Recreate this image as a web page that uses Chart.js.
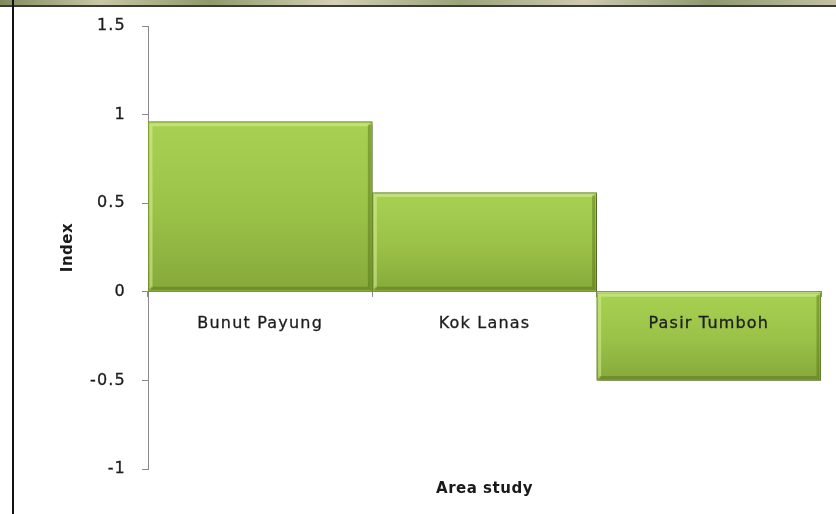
<!DOCTYPE html>
<html>
<head>
<meta charset="utf-8">
<script src="https://cdn.jsdelivr.net/npm/chart.js@4.4.1/dist/chart.umd.min.js"></script>
<style>
  html, body { margin: 0; padding: 0; background: #fff; }
  #wrap { position: relative; width: 836px; height: 514px; overflow: hidden; }
  #strip {
    position: absolute; left: 0; top: 0; width: 836px; height: 5px;
    background: linear-gradient(90deg, #7f8a5c, #c9c7a6 12%, #8e9a6a 25%, #d4d0b4 40%, #9aa37a 55%, #cfcab0 70%, #8c9870 85%, #c4c2a2);
  }
  #topline { position: absolute; left: 0; top: 5px; width: 836px; height: 2px; background: #3a3a3a; }
  #leftline { position: absolute; left: 12px; top: 0; width: 2px; height: 514px; background: #111; }
  canvas { position: absolute; left: 0; top: 0; }
</style>
</head>
<body>
<div id="wrap">
  <canvas id="myChart" width="836" height="514"></canvas>
  <div id="strip"></div>
  <div id="topline"></div>
  <div id="leftline"></div>
</div>
<script>
  const areas = ["Bunut Payung", "Kok Lanas", "Pasir Tumboh"];
  const indexValues = [0.96, 0.56, -0.5];
  const yTicks = [-1, -0.5, 0, 0.5, 1, 1.5];

  const fontFamily = "'DejaVu Sans', sans-serif";

  // vertical gradient per bar, from its top edge to its bottom edge
  const barFill = (ctx) => {
    const chart = ctx.chart;
    if (!chart.chartArea) return "#98bf45";
    const y = chart.scales.y;
    const v = indexValues[ctx.dataIndex];
    const top = y.getPixelForValue(Math.max(v, 0));
    const bottom = y.getPixelForValue(Math.min(v, 0));
    const g = chart.ctx.createLinearGradient(0, top, 0, bottom);
    g.addColorStop(0, "#a8d152");
    g.addColorStop(0.5, "#9cc349");
    g.addColorStop(1, "#86a93a");
    return g;
  };

  // wide tick lettering
  const spacing = {
    id: "spacing",
    beforeDraw(chart) { chart.ctx.letterSpacing = "1.2px"; },
  };

  // soft drop shadow + bevel edges on the bars
  const bevel = {
    id: "bevel",
    beforeDatasetsDraw(chart) {
      const c = chart.ctx;
      c.save();
      c.shadowColor = "rgba(0,0,0,0.35)";
      c.shadowBlur = 4;
      c.shadowOffsetX = 2;
      c.shadowOffsetY = 2;
    },
    afterDatasetsDraw(chart) {
      const c = chart.ctx;
      c.restore();
      const meta = chart.getDatasetMeta(0);
      meta.data.forEach((bar) => {
        const left = bar.x - bar.width / 2 + 1;
        const right = bar.x + bar.width / 2 - 1;
        const top = Math.min(bar.y, bar.base) + 1;
        const bottom = Math.max(bar.y, bar.base) - 1;
        c.save();
        c.lineWidth = 3;
        c.strokeStyle = "rgba(215,240,150,0.55)";
        c.beginPath();
        c.moveTo(left + 2, bottom - 2);
        c.lineTo(left + 2, top + 2);
        c.lineTo(right - 2, top + 2);
        c.stroke();
        c.strokeStyle = "rgba(80,110,20,0.45)";
        c.beginPath();
        c.moveTo(right - 2, top + 2);
        c.lineTo(right - 2, bottom - 2);
        c.lineTo(left + 2, bottom - 2);
        c.stroke();
        c.restore();
      });
    },
  };

  // axis titles: "Index" left of the y axis, "Area study" under the plot
  const titles = {
    id: "titles",
    afterDraw(chart) {
      const c = chart.ctx;
      const a = chart.chartArea;
      c.save();
      c.letterSpacing = "0.5px";
      c.font = "bold 15px " + fontFamily;
      c.fillStyle = "#1a1a1a";
      c.textAlign = "center";
      c.textBaseline = "middle";
      c.fillText("Area study", (a.left + a.right) / 2, a.bottom + 20);
      c.translate(68, (a.top + a.bottom) / 2);
      c.rotate(-Math.PI / 2);
      c.fillText("Index", 0, 0);
      c.restore();
    },
  };

  new Chart(document.getElementById("myChart"), {
    type: "bar",
    data: {
      labels: areas,
      datasets: [
        {
          label: "Index",
          data: indexValues,
          backgroundColor: barFill,
          borderColor: "#6f8f2c",
          borderWidth: 1,
          barPercentage: 1,
          categoryPercentage: 1,
        },
      ],
    },
    options: {
      responsive: false,
      animation: false,
      layout: { padding: { top: 26, right: 15, bottom: 45, left: 0 } },
      plugins: { legend: { display: false }, tooltip: { enabled: false } },
      scales: {
        x: {
          position: { y: 0 },
          border: { color: "#8a8a8a" },
          grid: { drawOnChartArea: false, tickLength: 5, color: "#8a8a8a" },
          ticks: {
            z: 1,
            padding: 17,
            color: "#1c1c1c",
            textStrokeColor: "#1c1c1c",
            textStrokeWidth: 0.3,
            font: { family: fontFamily, size: 16 },
          },
        },
        y: {
          min: -1,
          max: 1.5,
          afterFit(scale) { scale.width = 148; },
          afterBuildTicks(scale) { scale.ticks = yTicks.map((v) => ({ value: v })); },
          border: { color: "#8a8a8a" },
          grid: { drawOnChartArea: false, tickLength: 6, color: "#8a8a8a" },
          ticks: {
            padding: 16,
            color: "#1c1c1c",
            textStrokeColor: "#1c1c1c",
            textStrokeWidth: 0.3,
            font: { family: fontFamily, size: 16 },
            callback: (v) => String(v),
          },
        },
      },
    },
    plugins: [spacing, bevel, titles],
  });
</script>
</body>
</html>
